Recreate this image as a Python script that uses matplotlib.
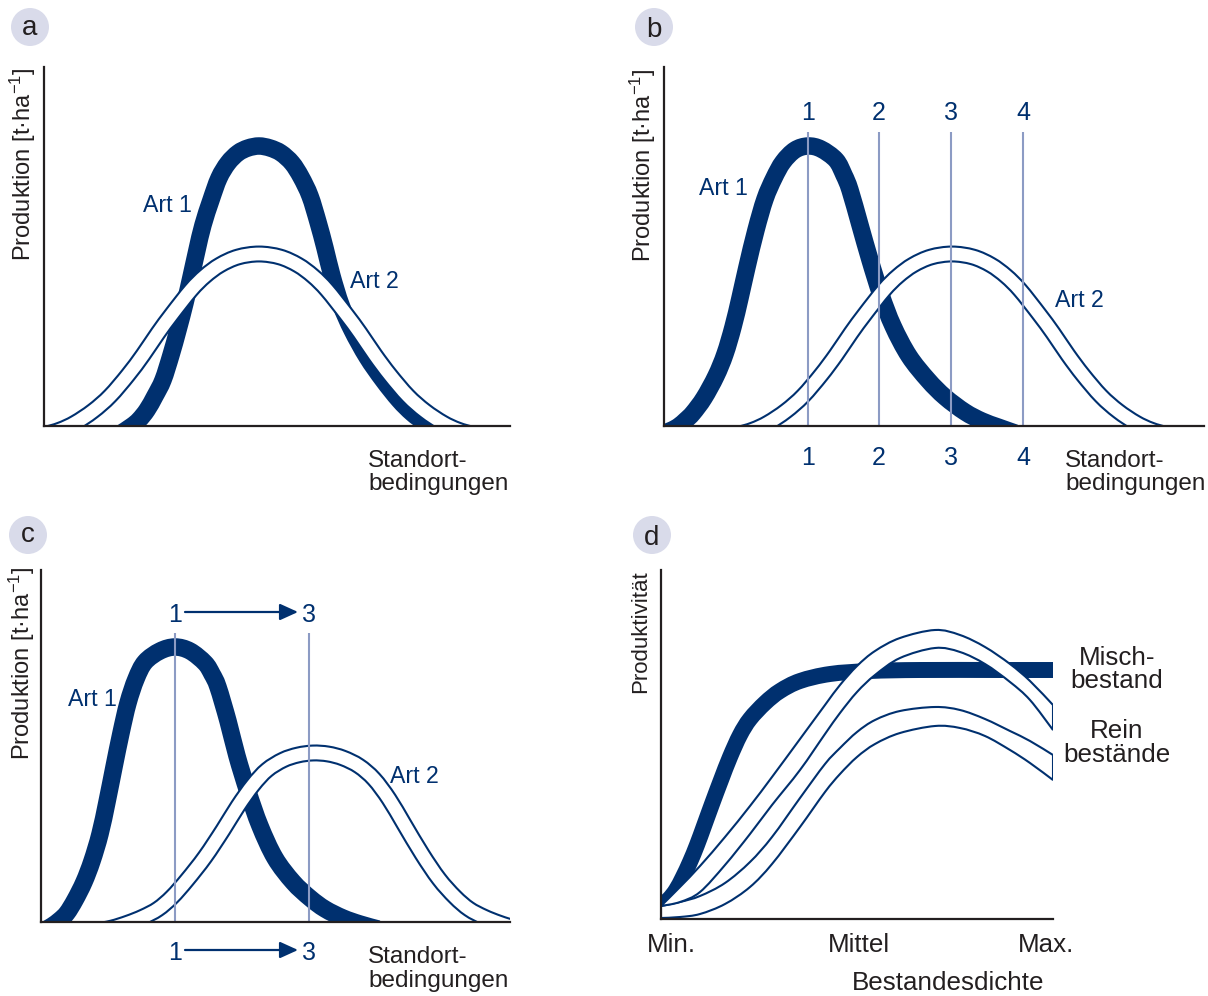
import matplotlib.pyplot as plt
import numpy as np
from matplotlib.patches import Ellipse, FancyArrowPatch, PathPatch
from matplotlib.path import Path

plt.rcParams.update({
    'font.family': ['Liberation Sans', 'DejaVu Sans'],
    'mathtext.fontset': 'custom',
    'mathtext.rm': 'Liberation Sans',
    'mathtext.it': 'Liberation Sans',
    'mathtext.default': 'regular',
})

NAVY = '#00306F'
GRID = '#8C9BC4'
INK = '#231F20'
BADGE = '#D9DBEA'

# --- Daten (schematische Kurven, Einheiten = Achsenpixel ab Ursprung) ---
# Panel a
a_art1_x = [76, 88, 95, 103, 111, 119, 127, 134, 141, 147, 153, 159, 167, 175, 184, 194, 204, 215,
            226, 237, 248, 257, 266, 274, 281, 288, 297, 308, 323, 339, 355, 368, 380, 396]
a_art1_y = [-8, 0, 6, 16, 30, 46, 71, 96, 123, 149, 176, 201, 226, 248, 263, 273, 278, 280,
            278, 273, 263, 249, 230, 204, 178, 150, 121, 96, 69, 46, 26, 13, 4, -6]
a_art2_x = [-24, 1, 16, 31, 49, 66, 84, 99, 114, 128, 147, 161, 176, 194, 215,
            236, 254, 269, 283, 302, 316, 331, 346, 364, 381, 399, 414, 429, 454]
a_art2_y = [-10, -8, -4, 3, 15, 30, 51, 71, 93, 112, 136, 150, 161, 169, 172,
            169, 161, 150, 136, 112, 93, 71, 51, 30, 15, 3, -4, -8, -10]

# Panel b
b_art1_x = [-2, 8, 15, 22, 29, 40, 52, 61, 69, 76, 83, 92, 101, 110, 119, 131, 144,
            157, 172, 180, 186, 196, 206, 217, 229, 245, 264, 281, 301, 318, 334, 351]
b_art1_y = [-8, -4, 0, 6, 13, 28, 50, 72, 99, 128, 159, 196, 227, 248, 264, 276, 280,
            277, 266, 251, 236, 201, 166, 131, 100, 70, 46, 29, 14, 5, -1, -7]
b_art2_x = [49, 74, 89, 104, 122, 139, 157, 172, 187, 201, 220, 234, 249, 267, 288,
            309, 327, 342, 356, 375, 389, 404, 419, 437, 454, 472, 487, 502, 527]
b_art2_y = [-10, -8, -4, 3, 15, 30, 51, 71, 93, 112, 136, 150, 161, 169, 172,
            169, 161, 150, 136, 112, 93, 71, 51, 30, 15, 3, -4, -8, -10]
b_cond_x = [144, 215, 287, 359]
b_cond_labels = ['1', '2', '3', '4']

# Panel c
c_art1_x = [4, 11, 19, 26, 34, 43, 51, 59, 66, 73, 80, 87, 95, 104, 119, 134,
            149, 164, 171, 177, 187, 196, 207, 219, 234, 252, 269, 284, 302, 319, 337]
c_art1_y = [-8, -4, 2, 9, 22, 40, 61, 88, 120, 155, 189, 219, 243, 260, 271, 275,
            271, 259, 248, 235, 201, 166, 130, 96, 64, 40, 24, 13, 4, -2, -7]
c_art2_x = [34, 54, 71, 87, 102, 117, 131, 146, 164, 182, 197, 212, 226, 242, 257, 272,
            287, 302, 318, 333, 348, 363, 381, 398, 414, 428, 443, 458, 474, 490, 510]
c_art2_y = [-10, -9, -6, -1, 5, 13, 25, 42, 65, 92, 116, 137, 152, 162, 167, 169,
            168, 164, 156, 143, 123, 98, 68, 43, 25, 13, 5, -1, -6, -9, -10]
c_cond_x = [134, 268]
c_cond_labels = ['1', '3']

# Panel d
d_misch_x = [0, 8, 15, 22, 29, 36, 43, 51, 60, 69, 79, 89, 104, 119, 139, 169, 209, 259, 339, 394]
d_misch_y = [13, 20, 29, 42, 57, 74, 93, 115, 139, 162, 184, 200, 216, 228, 238, 245, 248, 249, 249, 249]
d_x = [0, 19, 39, 64, 89, 111, 139, 164, 179, 196, 214, 239, 274, 299, 324, 349, 369, 392]
d_rein1_top = [13, 32, 53, 82, 113, 142, 180, 214, 234, 253, 268, 281, 289, 284, 272, 255, 238, 214]
d_rein1_bot = [13, 17, 27, 54, 85, 114, 149, 185, 206, 227, 244, 261, 271, 267, 255, 237, 219, 189]
d_rein2_top = [13, 17, 23, 36, 57, 82, 121, 155, 171, 187, 199, 208, 212, 209, 200, 188, 178, 164]
d_rein2_bot = [1, 2, 5, 15, 32, 55, 92, 127, 145, 162, 175, 186, 193, 191, 183, 169, 156, 139]
d_xlabels = ['Min.', 'Mittel', 'Max.']

W, H = 1208, 996
fig = plt.figure(figsize=(W / 100, H / 100), dpi=100)


def panel(x0, y0, x1, y1):
    # x0,y0 = Ursprung (Pixel), x1 = Ende x-Achse, y1 = Ende y-Achse
    ax = fig.add_axes([x0 / W, 1 - y0 / H, (x1 - x0) / W, (y0 - y1) / H])
    ax.set_xlim(0, x1 - x0)
    ax.set_ylim(0, y0 - y1)
    for s in ['top', 'right']:
        ax.spines[s].set_visible(False)
    for s in ['left', 'bottom']:
        ax.spines[s].set_color(INK)
        ax.spines[s].set_linewidth(1.6)
        ax.spines[s].set_zorder(10)
    ax.set_xticks([])
    ax.set_yticks([])
    ax.patch.set_alpha(0)
    return ax


def curve(x, y):
    p = np.column_stack([x, y]).astype(float)
    n = len(p)
    verts, codes = [p[0]], [Path.MOVETO]
    for i in range(n - 1):
        p0 = p[i - 1] if i > 0 else p[i]
        p3 = p[i + 2] if i + 2 < n else p[i + 1]
        verts += [p[i] + (p[i + 1] - p0) / 6, p[i + 1] - (p3 - p[i]) / 6, p[i + 1]]
        codes += [Path.CURVE4] * 3
    return verts, codes


def stroke(ax, x, y, color, lw, z):
    v, c = curve(x, y)
    ax.add_patch(PathPatch(Path(v, c), facecolor='none', edgecolor=color, lw=lw,
                           capstyle='butt', joinstyle='round', zorder=z))


def thick(ax, x, y, lw=12.6):
    stroke(ax, x, y, NAVY, lw, 2)


def hollow(ax, x, y):
    stroke(ax, x, y, NAVY, 12.2, 3)
    stroke(ax, x, y, 'white', 9.2, 3.1)


def band(ax, x, top, bot, z):
    vt, ct = curve(x, top)
    vb, cb = curve(x[::-1], bot[::-1])
    verts = vt + [vb[0]] + vb[1:] + [vt[0]]
    codes = ct + [Path.LINETO] + cb[1:] + [Path.CLOSEPOLY]
    ax.add_patch(PathPatch(Path(verts, codes), facecolor='white', edgecolor=NAVY, lw=1.5,
                           joinstyle='miter', zorder=z))


def ftext(x, y, s, **kw):
    kw.setdefault('va', 'baseline')
    fig.text(x / W, 1 - y / H, s, **kw)


def badge(x, y, letter, base):
    fig.add_artist(Ellipse((x / W, 1 - y / H), 38 / W, 38 / H, transform=fig.transFigure,
                           facecolor=BADGE, edgecolor='none'))
    ftext(x, base, letter, ha='center', fontsize=20, color=INK)


ylab = 'Produktion [t·ha$^{-1}$]'

# ---------------- a ----------------
ax_a = panel(44, 426, 510, 67)
thick(ax_a, a_art1_x, a_art1_y)
hollow(ax_a, a_art2_x, a_art2_y)
badge(30, 27, 'a', 35)
ftext(23, 164, ylab, rotation=90, ha='center', va='center', fontsize=17, color=INK)
ftext(143, 212, 'Art 1', fontsize=16.7, color=NAVY)
ftext(350, 288, 'Art 2', fontsize=16.7, color=NAVY)
ftext(368, 467, 'Standort-', fontsize=17.5, color=INK)
ftext(368, 490, 'bedingungen', fontsize=17.5, color=INK)

# ---------------- b ----------------
ax_b = panel(664, 426, 1204, 67)
thick(ax_b, b_art1_x, b_art1_y)
hollow(ax_b, b_art2_x, b_art2_y)
ax_b.vlines(b_cond_x, 0, 294, color=GRID, lw=1.5, zorder=5)
for xc, lab in zip(b_cond_x, b_cond_labels):
    ax_b.text(xc, 306, lab, ha='center', va='baseline', fontsize=18, color=NAVY, clip_on=False)
    ax_b.text(xc, -39, lab, ha='center', va='baseline', fontsize=18, color=NAVY, clip_on=False)
badge(654, 27, 'b', 37)
ftext(643, 165, ylab, rotation=90, ha='center', va='center', fontsize=17, color=INK)
ftext(699, 195, 'Art 1', fontsize=16.7, color=NAVY)
ftext(1055, 307, 'Art 2', fontsize=16.7, color=NAVY)
ftext(1065, 467, 'Standort-', fontsize=17.5, color=INK)
ftext(1065, 490, 'bedingungen', fontsize=17.5, color=INK)

# ---------------- c ----------------
ax_c = panel(41, 922, 510, 570)
thick(ax_c, c_art1_x, c_art1_y)
hollow(ax_c, c_art2_x, c_art2_y)
ax_c.vlines(c_cond_x, 0, 289, color=GRID, lw=1.5, zorder=5)
for yb, ya in [(300, 310), (-38, -28)]:
    for xc, lab in zip(c_cond_x, c_cond_labels):
        ax_c.text(xc, yb, lab, ha='center', va='baseline', fontsize=18, color=NAVY, clip_on=False)
    arr = FancyArrowPatch((c_cond_x[0] + 10, ya), (c_cond_x[1] - 11, ya),
                          arrowstyle='-|>,head_length=0.55,head_width=0.25',
                          mutation_scale=20, color=NAVY, lw=1.6, shrinkA=0, shrinkB=0,
                          clip_on=False, transform=ax_c.transData)
    ax_c.add_patch(arr)
badge(28, 535, 'c', 542)
ftext(22, 663, ylab, rotation=90, ha='center', va='center', fontsize=17, color=INK)
ftext(68, 706, 'Art 1', fontsize=16.7, color=NAVY)
ftext(390, 783, 'Art 2', fontsize=16.7, color=NAVY)
ftext(368, 963, 'Standort-', fontsize=17.5, color=INK)
ftext(368, 987, 'bedingungen', fontsize=17.5, color=INK)

# ---------------- d ----------------
ax_d = panel(661, 919, 1053, 570)
thick(ax_d, d_misch_x, d_misch_y, lw=11.5)
band(ax_d, d_x, d_rein2_top, d_rein2_bot, 3)
band(ax_d, d_x, d_rein1_top, d_rein1_bot, 4)
badge(652, 535, 'd', 545)
ftext(641, 632, 'Produktivität', rotation=90, ha='center', va='center', fontsize=16, color=INK)
for xc, lab in zip([671, 859, 1046], d_xlabels):
    ftext(xc, 952, lab, ha='center', fontsize=18.7, color=INK)
ftext(948, 990, 'Bestandesdichte', ha='center', fontsize=18.7, color=INK)
ftext(1117, 665, 'Misch-', ha='center', fontsize=18.7, color=INK)
ftext(1117, 688, 'bestand', ha='center', fontsize=18.7, color=INK)
ftext(1117, 738, 'Rein', ha='center', fontsize=18.7, color=INK)
ftext(1117, 762, 'bestände', ha='center', fontsize=18.7, color=INK)

fig.savefig('out.png', dpi=100)
